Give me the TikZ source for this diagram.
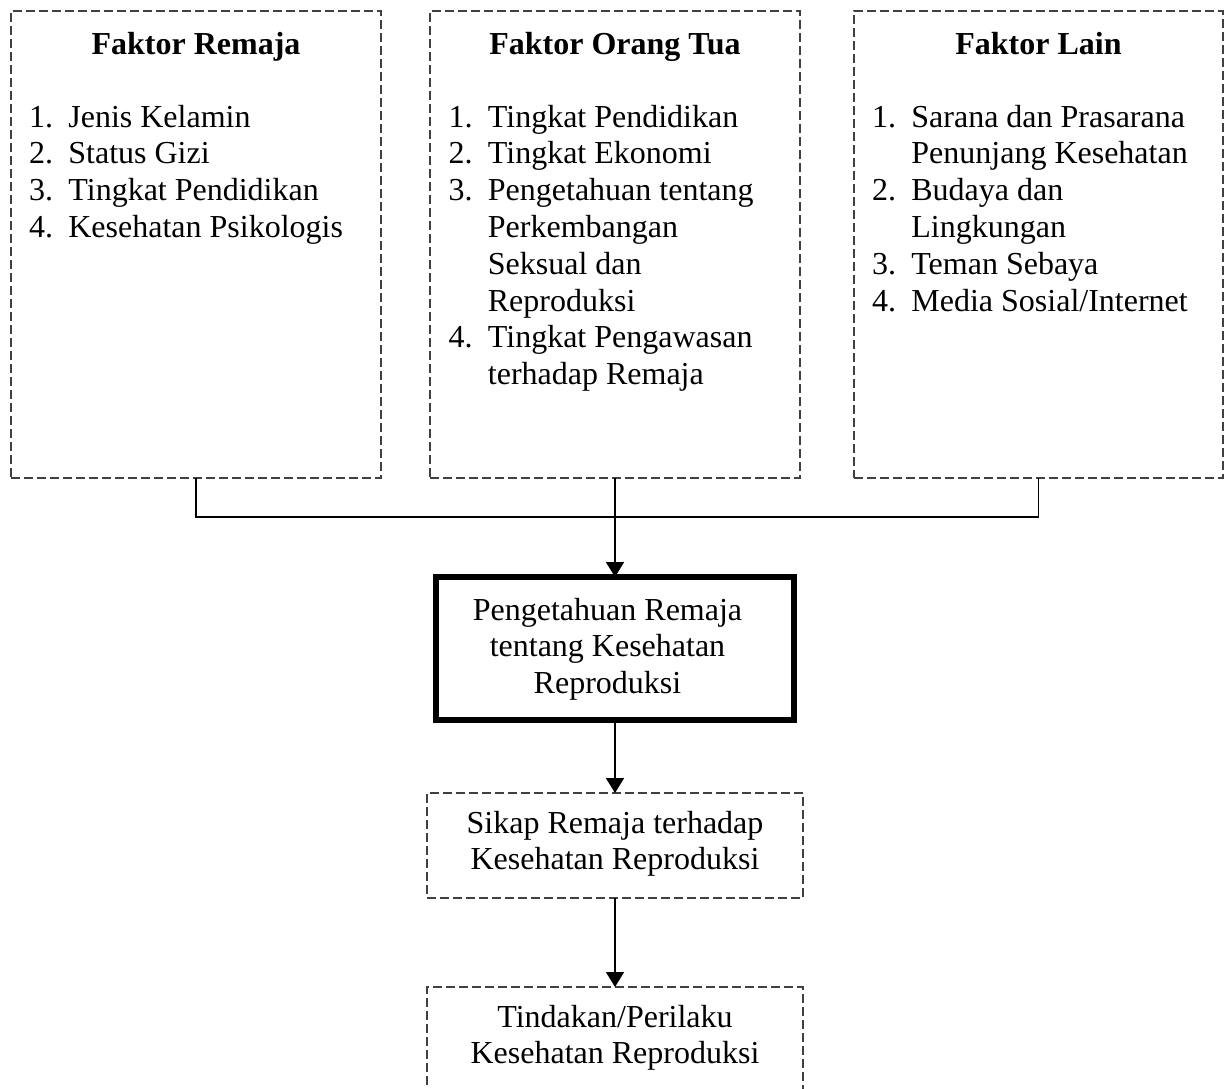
\documentclass[tikz,border=0pt]{standalone}
\usepackage{fontspec}
\setmainfont{Liberation Serif}
\usetikzlibrary{arrows.meta}
\newcommand\stk[2][c]{\begin{tabular}[t]{@{}#1@{}}#2\end{tabular}}
\newcommand\lst[1]{\begin{tabular}[t]{@{}p{19.7pt}@{}l@{}}#1\end{tabular}}
\begin{document}
\begin{tikzpicture}[x=0.5pt,y=-0.5pt,
  every node/.style={font=\fontsize{16pt}{18.4pt}\selectfont, inner sep=0pt, outer sep=0pt},
  dbox/.style={draw=black!75, line width=0.7pt, dash pattern=on 4.5pt off 2pt, minimum width=#1, minimum height=233.5pt},
  mbox/.style={draw=black!75, line width=0.7pt, dash pattern=on 4.5pt off 2pt, minimum width=188pt},
  kbox/.style={draw=black, line width=3pt, minimum width=179pt, minimum height=71.5pt},
  txt/.style={anchor=base},
  lt/.style={anchor=base west},
  conn/.style={draw=black, line width=0.8pt},
  arr/.style={conn, -{Triangle[length=7.5pt,width=9pt]}}]
\clip (0,0) rectangle (1226,1088);
\node[dbox=185pt] (b1) at (196,244.5) {};
\node[dbox=185pt] (b2) at (615,244.5) {};
\node[dbox=184.5pt] (b3) at (1038.5,244.5) {};
\node[txt,font=\fontsize{16pt}{18.4pt}\selectfont\bfseries] (t1) at (196,54) {Faktor Remaja};
\node[txt,font=\fontsize{16pt}{18.4pt}\selectfont\bfseries] (t2) at (615,54) {Faktor Orang Tua};
\node[txt,font=\fontsize{16pt}{18.4pt}\selectfont\bfseries] (t3) at (1038.5,54) {Faktor Lain};
\node[lt] (l1) at (29,127) {\lst{1. & Jenis Kelamin\\ 2. & Status Gizi\\ 3. & Tingkat Pendidikan\\ 4. & Kesehatan Psikologis}};
\node[lt] (l2) at (448.5,127) {\lst{1. & Tingkat Pendidikan\\ 2. & Tingkat Ekonomi\\ 3. & Pengetahuan tentang\\ & Perkembangan\\ & Seksual dan\\ & Reproduksi\\ 4. & Tingkat Pengawasan\\ & terhadap Remaja}};
\node[lt] (l3) at (872,127) {\lst{1. & Sarana dan Prasarana\\ & Penunjang Kesehatan\\ 2. & Budaya dan\\ & Lingkungan\\ 3. & Teman Sebaya\\ 4. & Media Sosial/Internet}};
\node[kbox] (pk) at (615,648.5) {};
\node[txt] (pkt) at (607.5,620) {\stk{Pengetahuan Remaja\\tentang Kesehatan\\Reproduksi}};
\node[mbox, minimum height=52.5pt] (sk) at (615,845.5) {};
\node[txt] (skt) at (615,833) {\stk{Sikap Remaja terhadap\\Kesehatan Reproduksi}};
\node[mbox, minimum height=80pt] (td) at (615,1067) {};
\node[txt] (tdt) at (615,1027) {\stk{Tindakan/Perilaku\\Kesehatan Reproduksi}};
\draw[conn] (b1.south) -- ++(0,39) coordinate (j1) -| (b3.south);
\draw[arr] (b2.south) -- (pk.north);
\draw[arr] (pk.south) -- (sk.north);
\draw[arr] (sk.south) -- (td.north);
\end{tikzpicture}
\end{document}
